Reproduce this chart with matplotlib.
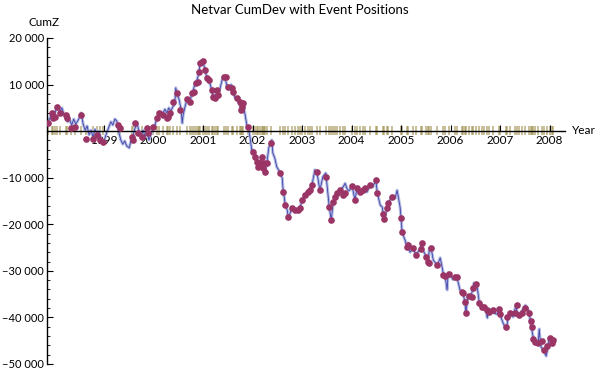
import numpy as np
import matplotlib
matplotlib.use("Agg")
import matplotlib.pyplot as plt
import matplotlib.ticker as ticker

plt.rcParams["font.family"] = ["Lato", "DejaVu Sans"]

# cumulative deviation curve (year, CumZ)
curve_year = [
    1997.85, 1997.91, 1997.95, 1997.99, 1998.03, 1998.07, 1998.11, 1998.15, 1998.19, 1998.23,
    1998.27, 1998.31, 1998.35, 1998.39, 1998.43, 1998.47, 1998.52, 1998.54, 1998.58, 1998.62,
    1998.66, 1998.70, 1998.74, 1998.78, 1998.82, 1998.86, 1998.90, 1998.94, 1998.98, 1999.02,
    1999.06, 1999.10, 1999.14, 1999.18, 1999.22, 1999.26, 1999.30, 1999.34, 1999.38, 1999.42,
    1999.46, 1999.51, 1999.55, 1999.59, 1999.63, 1999.67, 1999.71, 1999.75, 1999.79, 1999.83,
    1999.87, 1999.91, 1999.95, 1999.99, 2000.03, 2000.07, 2000.11, 2000.15, 2000.19, 2000.23,
    2000.27, 2000.31, 2000.35, 2000.39, 2000.43, 2000.45, 2000.47, 2000.52, 2000.56, 2000.58,
    2000.60, 2000.64, 2000.68, 2000.72, 2000.74, 2000.78, 2000.80, 2000.84, 2000.88, 2000.90,
    2000.92, 2000.94, 2000.97, 2001.00, 2001.04, 2001.08, 2001.12, 2001.16, 2001.18, 2001.20,
    2001.24, 2001.28, 2001.30, 2001.34, 2001.40, 2001.44, 2001.48, 2001.53, 2001.57, 2001.61,
    2001.65, 2001.69, 2001.73, 2001.77, 2001.79, 2001.81, 2001.85, 2001.89, 2001.91, 2001.95,
    2001.99, 2002.01, 2002.05, 2002.09, 2002.11, 2002.15, 2002.19, 2002.21, 2002.23, 2002.25,
    2002.29, 2002.33, 2002.37, 2002.39, 2002.41, 2002.45, 2002.49, 2002.53, 2002.56, 2002.60,
    2002.62, 2002.64, 2002.66, 2002.70, 2002.72, 2002.76, 2002.80, 2002.86, 2002.92, 2002.96,
    2003.00, 2003.06, 2003.12, 2003.16, 2003.20, 2003.26, 2003.30, 2003.36, 2003.42, 2003.48,
    2003.55, 2003.59, 2003.63, 2003.67, 2003.71, 2003.77, 2003.83, 2003.87, 2003.91, 2003.95,
    2004.01, 2004.07, 2004.11, 2004.17, 2004.23, 2004.27, 2004.31, 2004.37, 2004.43, 2004.49,
    2004.52, 2004.58, 2004.62, 2004.64, 2004.66, 2004.72, 2004.74, 2004.82, 2004.88, 2004.92,
    2004.98, 2005.00, 2005.02, 2005.08, 2005.12, 2005.14, 2005.18, 2005.24, 2005.30, 2005.38,
    2005.42, 2005.44, 2005.51, 2005.55, 2005.57, 2005.61, 2005.65, 2005.73, 2005.79, 2005.85,
    2005.89, 2005.93, 2005.95, 2005.99, 2006.05, 2006.13, 2006.19, 2006.25, 2006.29, 2006.31,
    2006.35, 2006.41, 2006.45, 2006.47, 2006.52, 2006.54, 2006.58, 2006.64, 2006.68, 2006.72,
    2006.74, 2006.78, 2006.84, 2006.88, 2006.94, 2006.98, 2007.00, 2007.04, 2007.06, 2007.10,
    2007.14, 2007.16, 2007.22, 2007.26, 2007.32, 2007.34, 2007.40, 2007.46, 2007.51, 2007.55,
    2007.59, 2007.61, 2007.63, 2007.67, 2007.69, 2007.75, 2007.77, 2007.79, 2007.81, 2007.83,
    2007.89, 2007.93, 2007.97, 2007.99, 2008.01, 2008.05,
]
curve_val = [
    1700, 2800, 3900, 3300, 4500, 5400, 4100, 5000, 3700, 2800,
    2000, 2400, 1300, 2600, 1500, 2200, 3200, 3900, 1500, 200,
    1100, -800, 200, -1300, 400, -600, 0, -1900, -2800, -1500,
    -200, 900, 2000, 1300, 2600, 2200, -200, -1900, -2800, -2100,
    -3200, -3600, -1900, -800, 700, 1700, -200, -1500, 200, -1100,
    -400, -1900, -600, 400, 1300, 2800, 3200, 4100, 3900, 4700,
    3900, 5000, 4300, 5200, 5800, 9300, 8200, 6700, 4500, 1700,
    3500, 5400, 6900, 6200, 6400, 8400, 8600, 10300, 11000, 11800,
    12700, 14600, 15200, 15000, 13100, 11400, 10900, 9500, 8800, 7300,
    7100, 8800, 7800, 9000, 11600, 11800, 9800, 9300, 10000, 8400,
    7100, 6800, 6200, 4500, 5000, 6000, 3500, 1000, 900, -1300,
    -4500, -4000, -5600, -6600, -7700, -6800, -5600, -7900, -6800, -8800,
    -6800, -3500, -2300, -1900, -4700, -5800, -7700, -8400, -9000, -10100,
    -13100, -14100, -15900, -16900, -18400, -17600, -16500, -16900, -16900, -16500,
    -14800, -13700, -13100, -12700, -11600, -8300, -8800, -12700, -9800, -9000,
    -16300, -19100, -15300, -14100, -13300, -12700, -12000, -11200, -12400, -12800,
    -11800, -14800, -12200, -13100, -12700, -12200, -13100, -11600, -12000, -10500,
    -13300, -15900, -16300, -17800, -18900, -16500, -15400, -14100, -14400, -12700,
    -16300, -18700, -21700, -23400, -24900, -24000, -26000, -25100, -26600, -25300,
    -24200, -25500, -27000, -28100, -25100, -25300, -27700, -28800, -27200, -30400,
    -31300, -34100, -30400, -30900, -31900, -31500, -34100, -34800, -36700, -39000,
    -35200, -35600, -33700, -32600, -33000, -33700, -36900, -38000, -37600, -38800,
    -40100, -38200, -38800, -39100, -39300, -38200, -39500, -40600, -41200, -42100,
    -41600, -39900, -39100, -39900, -37400, -38800, -39500, -38200, -37400, -38000,
    -39100, -40800, -42100, -44400, -45500, -45500, -45300, -42500, -45100, -46400,
    -47300, -48300, -46000, -44400, -44900, -45500,
]

# event positions and CumZ at each event
event_year = [
    1997.87, 1997.95, 1997.97, 1998.01, 1998.05, 1998.11, 1998.23, 1998.25, 1998.33, 1998.41,
    1998.54, 1998.64, 1998.78, 1998.86, 1998.92, 1998.98,
    1999.28, 1999.32, 1999.57, 1999.59, 1999.63, 1999.69, 1999.77, 1999.87, 1999.89, 1999.99,
    2000.07, 2000.11, 2000.19, 2000.27, 2000.29, 2000.33, 2000.39, 2000.47, 2000.54, 2000.68,
    2000.74, 2000.78, 2000.82, 2000.86, 2000.90, 2000.92, 2000.94, 2001.00,
    2001.04, 2001.08, 2001.12, 2001.18, 2001.20, 2001.24, 2001.28, 2001.30, 2001.42, 2001.46,
    2001.51, 2001.59, 2001.61, 2001.69, 2001.75, 2001.77, 2001.79, 2001.81, 2001.91,
    2002.01, 2002.05, 2002.09, 2002.11, 2002.15, 2002.19, 2002.21, 2002.23, 2002.25, 2002.29,
    2002.37, 2002.56, 2002.62, 2002.66, 2002.72, 2002.80, 2002.86, 2002.92, 2002.96,
    2003.00, 2003.06, 2003.12, 2003.16, 2003.20, 2003.30, 2003.36, 2003.48, 2003.55, 2003.59,
    2003.63, 2003.67, 2003.71, 2003.77, 2003.83, 2003.87,
    2004.01, 2004.07, 2004.11, 2004.17, 2004.23, 2004.27, 2004.37, 2004.49, 2004.52, 2004.64,
    2004.66, 2004.72, 2004.74, 2004.82,
    2005.00, 2005.02, 2005.12, 2005.14, 2005.24, 2005.30, 2005.40, 2005.42, 2005.51, 2005.55,
    2005.57, 2005.61, 2005.73, 2005.85, 2005.89, 2005.97,
    2006.09, 2006.13, 2006.23, 2006.25, 2006.29, 2006.31, 2006.37, 2006.43, 2006.45, 2006.52,
    2006.58, 2006.64, 2006.68, 2006.74, 2006.78, 2006.86, 2006.98,
    2007.00, 2007.12, 2007.14, 2007.20, 2007.30, 2007.34, 2007.38, 2007.44, 2007.51, 2007.59,
    2007.63, 2007.65, 2007.67, 2007.71, 2007.77, 2007.85, 2007.89, 2007.95, 2008.01, 2008.05,
    2008.07,
]
event_val = [
    1700, 3900, 2800, 3000, 5200, 3900, 3500, 2800, 700, 900,
    3500, -1700, -1700, -800, -1900, -2300,
    1300, 700, -1300, -1900, 1700, -400, -1300, 700, -400, 900,
    2800, 3900, 3500, 2800, 3000, 3900, 6200, 8200, 4500, 6900,
    6200, 8200, 8400, 10300, 10500, 12700, 14600, 15000,
    13100, 11400, 10900, 8800, 7300, 7100, 8800, 7800, 11600, 11600,
    9500, 9300, 8400, 7100, 6200, 4500, 5200, 6000, 900,
    -4500, -5600, -6600, -7700, -6800, -5600, -7900, -6800, -8800, -6800,
    -2600, -9000, -13100, -15900, -18400, -16500, -16900, -16900, -16500,
    -14800, -13700, -13100, -12700, -11600, -8800, -12700, -9900, -16300, -19100,
    -15300, -14100, -13300, -12700, -13700, -13300,
    -11800, -14800, -12200, -13100, -12700, -12200, -11600, -10500, -13300, -17800,
    -18900, -16500, -15400, -14100,
    -18700, -21700, -24900, -24500, -25100, -26600, -25300, -24000, -27000, -28100,
    -28300, -25100, -28800, -30900, -31100, -30700,
    -31300, -31300, -34600, -34800, -36700, -39100, -35400, -35600, -33700, -32800,
    -36900, -37800, -37800, -38400, -38800, -38400, -38200,
    -39300, -42100, -39900, -39100, -39100, -37400, -39500, -39100, -38000, -39100,
    -40800, -42100, -44600, -45300, -45500, -45100, -47000, -46200, -44400, -45500,
    -44900,
]

year_ticks = [1999, 2000, 2001, 2002, 2003, 2004, 2005, 2006, 2007, 2008]
cumz_ticks = [-50000, -40000, -30000, -20000, -10000, 10000, 20000]

fig = plt.figure(figsize=(6, 3.73), dpi=100)
ax = fig.add_axes([47 / 600, 9 / 373, 518 / 600, 326 / 373])

ax.vlines(event_year, -800, 1000, color="#9c8d48", alpha=0.65, lw=1.2, zorder=1)
ax.plot(curve_year, curve_val, color="#b4bde2", lw=2.2, zorder=2)
ax.plot(curve_year, curve_val, color="#4040aa", lw=0.6, zorder=2.2)
ax.plot(event_year, event_val, "o", color="#9b3566", ms=4.8, mew=0, zorder=3)

ax.set_xlim(1997.85, 2008.31)
ax.set_ylim(-50000, 20000)

for s in ["top", "right"]:
    ax.spines[s].set_visible(False)
ax.spines["bottom"].set_position(("data", 0))
ax.spines["left"].set_linewidth(1.0)
ax.spines["bottom"].set_linewidth(1.0)

def fmt(v):
    s = f"{abs(v):,}".replace(",", " ")
    return ("\u2212" + s) if v < 0 else s

ax.set_xticks(year_ticks)
ax.set_xticklabels([str(y) for y in year_ticks], fontsize=8.5)
ax.set_yticks(cumz_ticks)
ax.set_yticklabels([fmt(v) for v in cumz_ticks], fontsize=8)
ax.yaxis.set_minor_locator(ticker.MultipleLocator(2000))
ax.tick_params(axis="y", which="major", direction="in", length=4, width=0.8, pad=2)
ax.tick_params(axis="y", which="minor", direction="in", length=2.5, width=0.6)
ax.tick_params(axis="x", which="major", direction="in", length=4, width=0.8, pad=3)

fig.text(0.5, 1 - 10 / 373, "Netvar CumDev with Event Positions", ha="center", va="center", fontsize=9.5)
fig.text(44 / 600, 1 - 22 / 373, "CumZ", ha="center", va="center", fontsize=8.5)
fig.text(572 / 600, 1 - 131 / 373, "Year", ha="left", va="center", fontsize=8.5)

fig.savefig("out.png", dpi=100)
